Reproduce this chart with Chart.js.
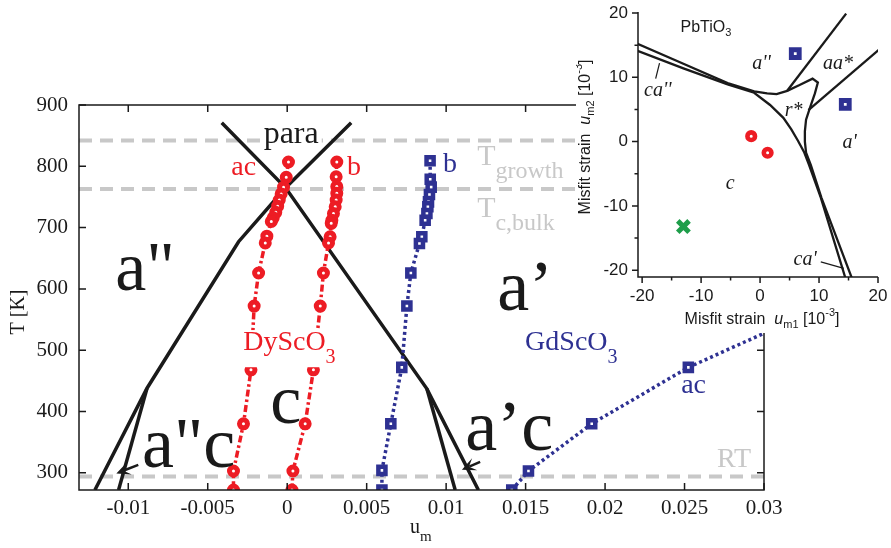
<!DOCTYPE html>
<html>
<head>
<meta charset="utf-8">
<script src="https://cdn.jsdelivr.net/npm/chart.js@4.4.1/dist/chart.umd.min.js"></script>
<style>
  html, body { margin: 0; padding: 0; background: #fff; }
  #wrap { position: relative; width: 891px; height: 548px; overflow: hidden; }
  #main { position: absolute; left: 0; top: 0; }
  #inset { position: absolute; left: 576px; top: 0; background: #fff; }
</style>
</head>
<body>
<div id="wrap">
  <canvas id="main" width="891" height="548"></canvas>
  <canvas id="inset" width="315" height="333"></canvas>
</div>
<script>
// ---- main panel data (u_m, T in K) ----
const xTickVals = [-0.01, -0.005, 0, 0.005, 0.01, 0.015, 0.02, 0.025, 0.03];
const yTickVals = [300, 400, 500, 600, 700, 800, 900];

// DyScO3, ac branch
const dyAcU = [0.00008, -0.00006, -0.00023, -0.00038, -0.0005, -0.0006, -0.00072, -0.00088, -0.001, -0.00128, -0.00138, -0.0018, -0.00208, -0.00228, -0.00275, -0.00338, -0.00338];
const dyAcT = [807, 782, 766, 755, 745, 735, 725, 716, 710, 686, 675, 626, 572, 468, 380, 303, 272];
// DyScO3, b branch
const dyBU = [0.00312, 0.00308, 0.00312, 0.00312, 0.00308, 0.00302, 0.00291, 0.00281, 0.00277, 0.0027, 0.0026, 0.00228, 0.00208, 0.00165, 0.00113, 0.00036, 0.0003];
const dyBT = [807, 783, 767, 756, 745, 734, 723, 712, 707, 685, 675, 626, 572, 468, 380, 303, 272];
// GdScO3, b branch
const gdBU = [0.00899, 0.009, 0.00906, 0.00895, 0.00889, 0.00885, 0.00879, 0.00868, 0.00847, 0.00832, 0.00778, 0.00753, 0.00721, 0.00652, 0.00596, 0.00596];
const gdBT = [809, 779, 766, 754, 742, 734, 723, 712, 685, 674, 626, 572, 472, 380, 304, 272];
// GdScO3, ac branch (last point runs off the frame)
const gdAcU = [0.01413, 0.01518, 0.01916, 0.02524, 0.0302];
const gdAcT = [272, 303, 380, 472, 530];

// phase boundaries
const bndLeftU = [0.004025, -0.0001, -0.00306, -0.00882, -0.0121];
const bndLeftT = [871, 765, 677, 438, 272];
const bndLeftInU = [-0.00882, -0.01061];
const bndLeftInT = [438, 272];
const bndRightU = [-0.00412, -0.0001, 0.00879, 0.01203];
const bndRightT = [871, 765, 437, 272];
const bndRightInU = [0.00879, 0.01057];
const bndRightInT = [437, 272];

// reference temperatures
const tGrowth = 842;
const tcBulk = 763;
const roomT = 294;

// ---- inset data (PbTiO3 misfit-strain diagram, 10^-3) ----
const insTickVals = [-20, -10, 0, 10, 20];
const insMinorVals = [-15, -5, 5, 15];
const curveAX = [-21, -13, -5.5, -1, 1.2, 2.8, 4.6, 6.7, 8.9, 9.8, 9.3, 8.4, 7.8, 7.6, 7.6, 7.8, 8.6, 10.4, 15.6];
const curveAY = [15.3, 12.1, 9.1, 7.8, 7.5, 7.4, 7.9, 8.8, 9.8, 9.2, 7.5, 5.1, 3.4, 1.6, 0, -1.7, -3.6, -8.7, -21.3];
const curveBX = [-21, -13, -5.5, -1, 1.7, 3.95, 5.3, 6.45, 7.5, 8.3, 10.3, 14.5];
const curveBY = [14.2, 11.4, 8.9, 7.6, 5.7, 3.7, 1.9, 0.1, -1.7, -3.6, -8.7, -21.3];
const curveCX = [4.6, 14.6];
const curveCY = [7.9, 19.9];
const curveDX = [8.2, 20.4];
const curveDY = [4.9, 14.5];
const ptrCaPPX = [-17.05, -17.7];
const ptrCaPPY = [12.2, 9.8];
const ptrCaPX = [10.3, 14.2];
const ptrCaPY = [-18.7, -19.7];
const insBlueX = [5.97, 14.45];
const insBlueY = [13.67, 5.79];
const insRedX = [-1.5, 1.28];
const insRedY = [0.85, -1.73];
const insGreenX = [-13];
const insGreenY = [-13.2];

const SERIF = '"Liberation Serif", "DejaVu Serif", serif';
const SANS = '"Liberation Sans", Arial, sans-serif';
const red = '#ed1c24';
const blue = '#2e3192';
const gray = '#c8c8c8';
const ink = '#1a1a1a';

function pts(xs, ys) {
  return xs.map((v, i) => ({ x: v, y: ys[i] }));
}

function fontOf(p) {
  return (p.style ? p.style + ' ' : '') + p.size + 'px ' + (p.family || SERIF);
}

function measureParts(ctx, parts) {
  let w = 0;
  parts.forEach(p => { ctx.font = fontOf(p); w += ctx.measureText(p.t).width; });
  return w;
}

function drawParts(ctx, x, y, parts, align, color) {
  const w = measureParts(ctx, parts);
  let cx = align === 'center' ? x - w / 2 : x;
  ctx.fillStyle = color;
  ctx.textAlign = 'left';
  ctx.textBaseline = 'alphabetic';
  parts.forEach(p => {
    ctx.font = fontOf(p);
    ctx.fillText(p.t, cx, y + (p.dy || 0));
    cx += ctx.measureText(p.t).width;
  });
}

function arrow(ctx, x0, y0, x1, y1) {
  const a = Math.atan2(y1 - y0, x1 - x0);
  const L = 14, W = 6.5;
  ctx.beginPath();
  ctx.moveTo(x0, y0);
  ctx.lineTo(x1 - Math.cos(a) * 8, y1 - Math.sin(a) * 8);
  ctx.stroke();
  ctx.beginPath();
  ctx.moveTo(x1, y1);
  ctx.lineTo(x1 - L * Math.cos(a) + W * Math.sin(a), y1 - L * Math.sin(a) - W * Math.cos(a));
  ctx.lineTo(x1 - 0.55 * L * Math.cos(a), y1 - 0.55 * L * Math.sin(a));
  ctx.lineTo(x1 - L * Math.cos(a) - W * Math.sin(a), y1 - L * Math.sin(a) + W * Math.cos(a));
  ctx.closePath();
  ctx.fill();
}

// text annotations on the main panel, anchored in data coordinates
const mainLabels = [
  { at: [0.00025, 838], align: 'center', color: ink, box: true, parts: [{ t: 'para', size: 32 }] },
  { at: [-0.00274, 786], align: 'center', color: red, parts: [{ t: 'ac', size: 28 }] },
  { at: [0.00421, 786], align: 'center', color: red, parts: [{ t: 'b', size: 28 }] },
  { at: [0.01025, 791], align: 'center', color: blue, parts: [{ t: 'b', size: 28 }] },
  { at: [0.01195, 802], color: gray, parts: [{ t: 'T', size: 30 }, { t: 'growth', size: 24, dy: 13 }] },
  { at: [0.01195, 717], color: gray, parts: [{ t: 'T', size: 30 }, { t: 'c,bulk', size: 24, dy: 13 }] },
  { at: [-0.01082, 598], color: ink, parts: [{ t: 'a"', size: 70 }] },
  { at: [0.01321, 566], color: ink, parts: [{ t: 'a\u2019', size: 72 }] },
  { at: [-0.00277, 500], color: red, box: true, parts: [{ t: 'DyScO', size: 28 }, { t: '3', size: 20, dy: 13 }] },
  { at: [0.01497, 500], color: blue, parts: [{ t: 'GdScO', size: 28 }, { t: '3', size: 20, dy: 13 }] },
  { at: [-0.00107, 381], color: ink, parts: [{ t: 'c', size: 70 }] },
  { at: [-0.00914, 310], color: ink, parts: [{ t: 'a"c', size: 72 }] },
  { at: [0.0112, 337], color: ink, parts: [{ t: 'a\u2019c', size: 72 }] },
  { at: [0.02557, 430], align: 'center', color: blue, parts: [{ t: 'ac', size: 28 }] },
  { at: [0.02704, 310], color: gray, parts: [{ t: 'RT', size: 28 }] }
];

const mainDecor = {
  id: 'mainDecor',
  afterDatasetsDraw(chart) {
    const { ctx, chartArea: a, scales: { x, y } } = chart;
    ctx.save();
    // frame + inward ticks
    ctx.strokeStyle = ink;
    ctx.lineWidth = 1.5;
    ctx.strokeRect(a.left, a.top, a.right - a.left, a.bottom - a.top);
    ctx.beginPath();
    xTickVals.forEach(v => {
      const px = x.getPixelForValue(v);
      ctx.moveTo(px, a.bottom); ctx.lineTo(px, a.bottom - 7);
      ctx.moveTo(px, a.top); ctx.lineTo(px, a.top + 7);
    });
    yTickVals.forEach(v => {
      const py = y.getPixelForValue(v);
      ctx.moveTo(a.left, py); ctx.lineTo(a.left + 7, py);
      ctx.moveTo(a.right, py); ctx.lineTo(a.right - 7, py);
    });
    ctx.stroke();

    // arrows pointing at the narrow a"c / a'c strips
    ctx.strokeStyle = ink;
    ctx.fillStyle = ink;
    ctx.lineWidth = 2.5;
    arrow(ctx, x.getPixelForValue(-0.00937), y.getPixelForValue(313), x.getPixelForValue(-0.01075), y.getPixelForValue(299));
    arrow(ctx, x.getPixelForValue(0.01214), y.getPixelForValue(318), x.getPixelForValue(0.01099), y.getPixelForValue(305));

    // labels
    mainLabels.forEach(l => {
      const px = x.getPixelForValue(l.at[0]);
      const py = y.getPixelForValue(l.at[1]);
      if (l.box) {
        const w = measureParts(ctx, l.parts);
        const left = l.align === 'center' ? px - w / 2 : px;
        const size = l.parts[0].size;
        ctx.fillStyle = '#fff';
        ctx.fillRect(left - 3, py - size * 0.72, w + 6, size * 0.72 + (l.parts.length > 1 ? 17 : 6));
      }
      drawParts(ctx, px, py, l.parts, l.align, l.color);
    });

    // axis titles
    drawParts(ctx, 410, 533, [{ t: 'u', size: 20 }, { t: 'm', size: 15, dy: 8 }], 'left', ink);
    ctx.translate(24, 312);
    ctx.rotate(-Math.PI / 2);
    drawParts(ctx, 0, 0, [{ t: 'T [K]', size: 20 }], 'center', ink);
    ctx.restore();
  }
};

function lineSet(xs, ys, color, width, dash) {
  return {
    data: pts(xs, ys), showLine: true, pointRadius: 0, borderColor: color,
    borderWidth: width, borderDash: dash || [], tension: 0, fill: false
  };
}

const xMin = -0.0131, xMax = 0.03;

new Chart(document.getElementById('main'), {
  type: 'scatter',
  data: {
    datasets: [
      {
        data: pts(dyAcU, dyAcT), showLine: true, borderColor: red, borderWidth: 3.5,
        borderDash: [7, 3, 2.5, 3], pointStyle: 'circle', pointRadius: 4,
        pointBackgroundColor: '#fff', pointBorderColor: red, pointBorderWidth: 5
      },
      {
        data: pts(dyBU, dyBT), showLine: true, borderColor: red, borderWidth: 3.5,
        borderDash: [7, 3, 2.5, 3], pointStyle: 'circle', pointRadius: 4,
        pointBackgroundColor: '#fff', pointBorderColor: red, pointBorderWidth: 5
      },
      {
        data: pts(gdBU, gdBT), showLine: true, borderColor: blue, borderWidth: 3.5,
        borderDash: [3, 3], pointStyle: 'rect', pointRadius: 5,
        pointBackgroundColor: '#fff', pointBorderColor: blue, pointBorderWidth: 4.5
      },
      {
        data: pts(gdAcU, gdAcT), showLine: true, borderColor: blue, borderWidth: 3.5,
        borderDash: [3, 3], pointStyle: 'rect',
        pointRadius: c => (c.dataIndex === gdAcU.length - 1 ? 0 : 5),
        pointBackgroundColor: '#fff', pointBorderColor: blue, pointBorderWidth: 4.5
      },
      lineSet(bndLeftU, bndLeftT, ink, 3.5),
      lineSet(bndLeftInU, bndLeftInT, ink, 3.5),
      lineSet(bndRightU, bndRightT, ink, 3.5),
      lineSet(bndRightInU, bndRightInT, ink, 3.5),
      lineSet([xMin, xMax], [tGrowth, tGrowth], gray, 4, [13, 8]),
      lineSet([xMin, xMax], [tcBulk, tcBulk], gray, 4, [13, 8]),
      lineSet([xMin, xMax], [roomT, roomT], gray, 4, [13, 8])
    ]
  },
  options: {
    responsive: false,
    animation: false,
    devicePixelRatio: 1,
    layout: { padding: { top: 105, right: 127, left: 0, bottom: 0 } },
    plugins: { legend: { display: false }, tooltip: { enabled: false } },
    scales: {
      x: {
        type: 'linear', min: xMin, max: xMax,
        grid: { display: false, drawTicks: false },
        border: { display: false },
        afterBuildTicks: s => { s.ticks = xTickVals.map(v => ({ value: v })); },
        afterFit: s => { s.height = 58; },
        ticks: {
          padding: 6, color: ink,
          font: { family: SERIF, size: 21 },
          callback: v => String(parseFloat(v.toFixed(4)))
        }
      },
      y: {
        type: 'linear', min: 272, max: 900,
        grid: { display: false, drawTicks: false },
        border: { display: false },
        afterBuildTicks: s => { s.ticks = yTickVals.map(v => ({ value: v })); },
        afterFit: s => { s.width = 79; s.paddingTop = 0; s.paddingBottom = 0; },
        ticks: { padding: 11, color: ink, font: { family: SERIF, size: 21 } }
      }
    }
  },
  plugins: [mainDecor]
});

// ---- inset ----
const insetLabels = [
  { at: [-13.5, 17.07], parts: [{ t: 'PbTiO', size: 16, family: SANS }, { t: '3', size: 11, dy: 4, family: SANS }] },
  { at: [-1.33, 11.35], parts: [{ t: "a''", size: 20, style: 'italic' }] },
  { at: [10.67, 11.35], parts: [{ t: 'aa*', size: 20, style: 'italic' }] },
  { at: [4.17, 3.94], parts: [{ t: 'r*', size: 20, style: 'italic' }] },
  { at: [14.0, -1.0], parts: [{ t: "a'", size: 20, style: 'italic' }] },
  { at: [-5.83, -7.34], parts: [{ t: 'c', size: 20, style: 'italic' }] },
  { at: [-19.67, 7.03], parts: [{ t: "ca''", size: 20, style: 'italic' }] },
  { at: [5.67, -19.2], parts: [{ t: "ca'", size: 20, style: 'italic' }] }
];

const insetDecor = {
  id: 'insetDecor',
  afterDatasetsDraw(chart) {
    const { ctx, chartArea: a, scales: { x, y } } = chart;
    ctx.save();
    ctx.strokeStyle = ink;
    ctx.lineWidth = 1.5;
    ctx.beginPath();
    ctx.moveTo(a.left, a.top - 1); ctx.lineTo(a.left, a.bottom); ctx.lineTo(a.right, a.bottom);
    insTickVals.forEach(v => {
      const px = x.getPixelForValue(v), py = y.getPixelForValue(v);
      ctx.moveTo(px, a.bottom); ctx.lineTo(px, a.bottom + 6);
      ctx.moveTo(a.left, py); ctx.lineTo(a.left - 6, py);
    });
    insMinorVals.forEach(v => {
      const px = x.getPixelForValue(v), py = y.getPixelForValue(v);
      ctx.moveTo(px, a.bottom); ctx.lineTo(px, a.bottom + 3.5);
      ctx.moveTo(a.left, py); ctx.lineTo(a.left - 3.5, py);
    });
    ctx.stroke();

    insetLabels.forEach(l => {
      drawParts(ctx, x.getPixelForValue(l.at[0]), y.getPixelForValue(l.at[1]), l.parts, 'left', ink);
    });

    const tl = [
      { t: 'Misfit strain  ', size: 16, family: SANS },
      { t: 'u', size: 16, family: SANS, style: 'italic' },
      { t: 'm1', size: 11, family: SANS, dy: 4 },
      { t: ' [10', size: 16, family: SANS },
      { t: '-3', size: 11, family: SANS, dy: -8 },
      { t: ']', size: 16, family: SANS }
    ];
    drawParts(ctx, 186, 324, tl, 'center', ink);
    const tr = [
      { t: 'Misfit strain  ', size: 16, family: SANS },
      { t: 'u', size: 16, family: SANS, style: 'italic' },
      { t: 'm2', size: 11, family: SANS, dy: 4 },
      { t: ' [10', size: 16, family: SANS },
      { t: '-3', size: 11, family: SANS, dy: -8 },
      { t: ']', size: 16, family: SANS }
    ];
    ctx.translate(14, 137);
    ctx.rotate(-Math.PI / 2);
    drawParts(ctx, 0, 0, tr, 'center', ink);
    ctx.restore();
  }
};

new Chart(document.getElementById('inset'), {
  type: 'scatter',
  data: {
    datasets: [
      {
        data: pts(insBlueX, insBlueY), pointStyle: 'rect', pointRadius: 5.5,
        pointBackgroundColor: '#fff', pointBorderColor: blue, pointBorderWidth: 5
      },
      {
        data: pts(insRedX, insRedY), pointStyle: 'circle', pointRadius: 3.8,
        pointBackgroundColor: '#fff', pointBorderColor: red, pointBorderWidth: 4.6
      },
      {
        data: pts(insGreenX, insGreenY), pointStyle: 'crossRot', pointRadius: 8,
        pointBorderColor: '#1e9e4a', pointBorderWidth: 5
      },
      lineSet(curveAX, curveAY, ink, 2.3),
      lineSet(curveBX, curveBY, ink, 2.3),
      lineSet(curveCX, curveCY, ink, 2.3),
      lineSet(curveDX, curveDY, ink, 2.3),
      lineSet(ptrCaPPX, ptrCaPPY, ink, 1.2),
      lineSet(ptrCaPX, ptrCaPY, ink, 1.2)
    ]
  },
  options: {
    responsive: false,
    animation: false,
    devicePixelRatio: 1,
    layout: { padding: { top: 11, right: 8, left: 0, bottom: 0 } },
    plugins: { legend: { display: false }, tooltip: { enabled: false } },
    scales: {
      x: {
        type: 'linear', min: -20.7, max: 20,
        grid: { display: false, drawTicks: false },
        border: { display: false },
        afterBuildTicks: s => { s.ticks = insTickVals.map(v => ({ value: v })); },
        afterFit: s => { s.height = 56; s.paddingLeft = 0; s.paddingRight = 0; },
        ticks: { padding: 9, color: ink, font: { family: SANS, size: 17 } }
      },
      y: {
        type: 'linear', min: -21.05, max: 20,
        grid: { display: false, drawTicks: false },
        border: { display: false },
        afterBuildTicks: s => { s.ticks = insTickVals.map(v => ({ value: v })); },
        afterFit: s => { s.width = 62; s.paddingTop = 0; s.paddingBottom = 0; },
        ticks: { padding: 10, color: ink, font: { family: SANS, size: 17 } }
      }
    }
  },
  plugins: [insetDecor]
});
</script>
</body>
</html>
